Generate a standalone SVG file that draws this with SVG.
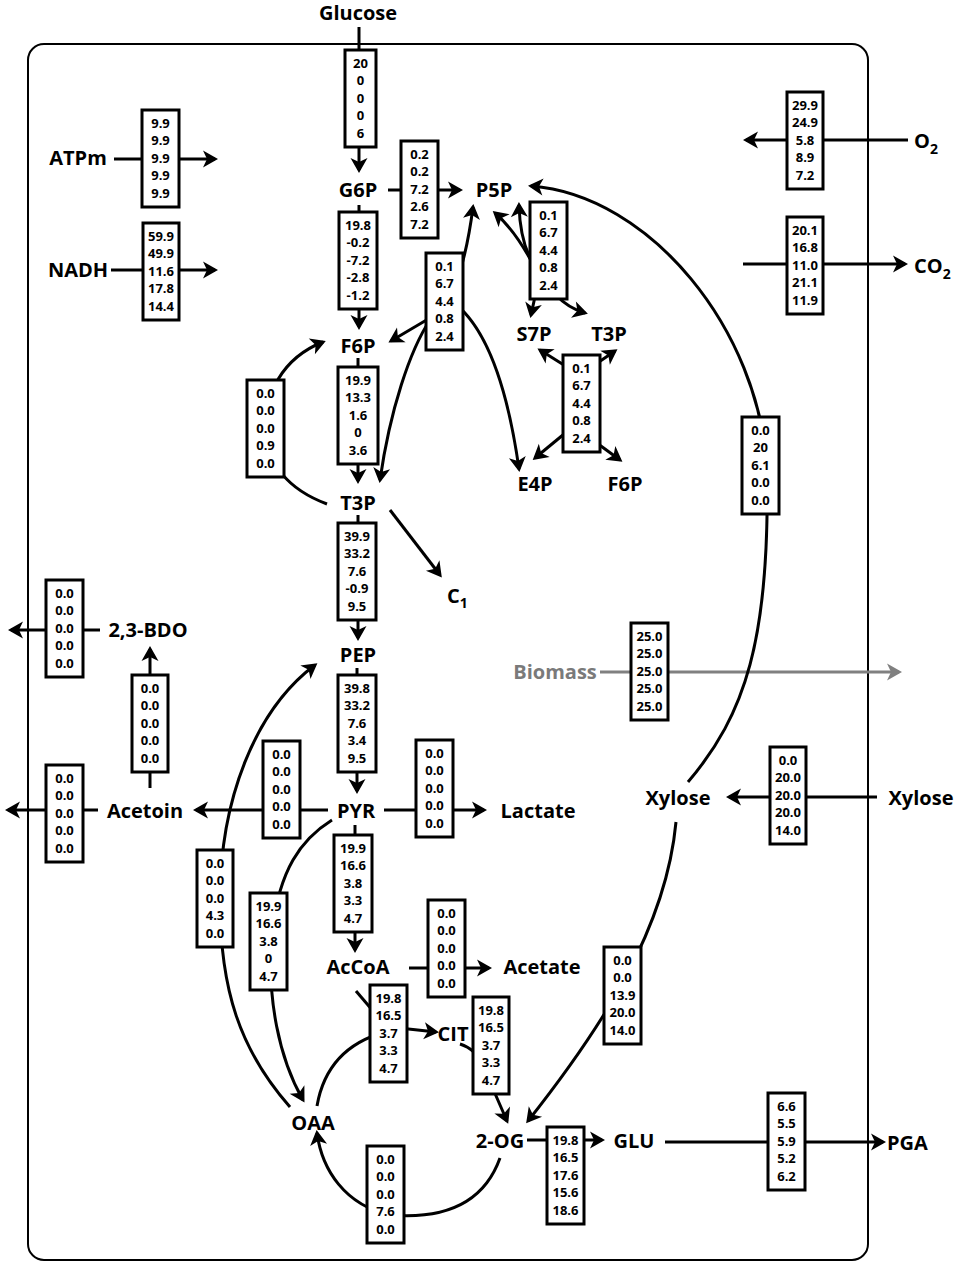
<svg xmlns="http://www.w3.org/2000/svg" width="957" height="1267" viewBox="0 0 957 1267">
<style>
.lbl{font-family:"Open Sans","Liberation Sans",sans-serif;font-weight:bold;font-size:20px;fill:#000;text-anchor:middle}
.lbs{font-family:"Open Sans","Liberation Sans",sans-serif;font-weight:bold;font-size:20px;fill:#000}
.num{font-family:"Open Sans","Liberation Sans",sans-serif;font-weight:bold;font-size:13px;fill:#000;text-anchor:middle}
.box{fill:#fff;stroke:#000;stroke-width:3}
.ln{fill:none;stroke:#000;stroke-width:3}
.ar{fill:none;stroke:#000;stroke-width:3;marker-end:url(#ah)}
.gr{fill:none;stroke:#808080;stroke-width:3;marker-end:url(#ahg)}
</style>
<defs>
<marker id="ah" markerUnits="userSpaceOnUse" markerWidth="16" markerHeight="18" refX="12" refY="8.5" orient="auto" overflow="visible">
<path d="M0,0 L15,8.5 L0,17 L4,8.5 z" fill="#000"/>
</marker>
<marker id="ahg" markerUnits="userSpaceOnUse" markerWidth="16" markerHeight="18" refX="12" refY="8.5" orient="auto" overflow="visible">
<path d="M0,0 L15,8.5 L0,17 L4,8.5 z" fill="#808080"/>
</marker>
</defs>
<rect width="957" height="1267" fill="#fff"/>
<rect id="cell" x="28" y="44" width="840" height="1216" rx="16" fill="none" stroke="#000" stroke-width="2"/>
<g id="connectors">
<path class="ar" d="M359,27 L359,170"/>
<path class="ar" d="M388,190 L460,190"/>
<path class="ar" d="M359,205 L359,327"/>
<path class="ar" d="M358,358 L358,481"/>
<path class="ar" d="M358,515 L358,638"/>
<path class="ar" d="M357,668 L357,791"/>
<path class="ar" d="M355,825 L355,950"/>
<path class="ar" d="M328,810 L196,810"/>
<path class="ar" d="M98,810 L8,810"/>
<path class="ar" d="M150,788 L150,649"/>
<path class="ar" d="M100,630 L11,630"/>
<path class="ar" d="M384,810 L484,810"/>
<path class="ar" d="M409,968 L489,968"/>
<path class="ar" d="M390,510 L440,575"/>
<path class="ar" d="M527,1140 L602,1140"/>
<path class="ar" d="M665,1142 L883,1142"/>
<path class="ar" d="M877,797 L729,797"/>
<path class="ar" d="M908,140 L746,140"/>
<path class="ar" d="M743,264 L905,264"/>
<path class="ar" d="M114,159 L215,159"/>
<path class="ar" d="M111,270 L215,270"/>
<path class="gr" d="M600,672 L899,672"/>
<path class="ln" d="M356,991 L385,1025"/>
<path class="ln" d="M317,1106 Q327,1048 385,1032"/>
<path class="ar" d="M390,1027 L436,1032"/>
<path class="ar" d="M460,1044 Q476,1049 483,1066 L507,1121"/>
<path class="ar" d="M500,1158 C485,1200 450,1220 390,1215 C345,1205 322,1170 317,1133"/>
<path class="ar" d="M332,820 C300,840 280,870 272,930 C266,1000 280,1060 303,1100"/>
<path class="ar" d="M290,1107 C240,1050 220,990 220,900 C220,800 255,710 315,665"/>
<path class="ar" d="M676,822 C666,930 600,1030 528,1121"/>
<path class="ar" d="M688,782 C745,715 770,640 767,470 C760,330 650,195 531,186"/>
<path class="ar" d="M327,504 C295,492 268,470 266,430 C264,395 282,358 323,342"/>
<path class="ar" d="M450,300 Q466,262 473,207"/>
<path class="ar" d="M440,312 L391,341"/>
<path class="ar" d="M430,320 C410,350 390,410 380,480"/>
<path class="ar" d="M450,300 C480,320 505,370 519,469"/>
<path class="ar" d="M534,266 Q515,230 495,213"/>
<path class="ar" d="M532,262 Q520,240 519,205"/>
<path class="ar" d="M536,292 L531,315"/>
<path class="ar" d="M556,295 Q568,308 585,313"/>
<path class="ar" d="M575,372 L540,350"/>
<path class="ar" d="M590,368 L615,351"/>
<path class="ar" d="M575,425 L535,458"/>
<path class="ar" d="M590,438 L620,460"/>
</g>
<g id="labels">
<g id="n_glucose"><text class="lbl" x="358" y="20">Glucose</text></g>
<g id="n_g6p"><text class="lbl" x="358" y="197">G6P</text></g>
<g id="n_p5p"><text class="lbl" x="494" y="197">P5P</text></g>
<g id="n_f6p"><text class="lbl" x="358" y="353">F6P</text></g>
<g id="n_s7p"><text class="lbl" x="534" y="341">S7P</text></g>
<g id="n_t3p2"><text class="lbl" x="609" y="341">T3P</text></g>
<g id="n_e4p"><text class="lbl" x="535" y="491">E4P</text></g>
<g id="n_f6p2"><text class="lbl" x="625" y="491">F6P</text></g>
<g id="n_t3p"><text class="lbl" x="358" y="510">T3P</text></g>
<g id="n_c1"><text class="lbs" x="447" y="603">C<tspan font-size="14" dy="5">1</tspan></text></g>
<g id="n_pep"><text class="lbl" x="358" y="662">PEP</text></g>
<g id="n_pyr"><text class="lbl" x="356" y="818">PYR</text></g>
<g id="n_acetoin"><text class="lbl" x="145" y="818">Acetoin</text></g>
<g id="n_bdo"><text class="lbl" x="148" y="637">2,3-BDO</text></g>
<g id="n_lactate"><text class="lbl" x="538" y="818">Lactate</text></g>
<g id="n_accoa"><text class="lbl" x="358" y="974">AcCoA</text></g>
<g id="n_acetate"><text class="lbl" x="542" y="974">Acetate</text></g>
<g id="n_cit"><text class="lbl" x="453" y="1041">CIT</text></g>
<g id="n_oaa"><text class="lbl" x="313" y="1130">OAA</text></g>
<g id="n_2og"><text class="lbl" x="500" y="1148">2-OG</text></g>
<g id="n_glu"><text class="lbl" x="634" y="1148">GLU</text></g>
<g id="n_pga"><text class="lbs" x="887" y="1150">PGA</text></g>
<g id="n_xylose_in"><text class="lbl" x="678" y="805">Xylose</text></g>
<g id="n_xylose_out"><text class="lbl" x="921" y="805">Xylose</text></g>
<g id="n_biomass"><text class="lbl" x="555" y="679" style="fill:#7a7a7a">Biomass</text></g>
<g id="n_atpm"><text class="lbl" x="78" y="165">ATPm</text></g>
<g id="n_nadh"><text class="lbl" x="78" y="277">NADH</text></g>
<g id="n_o2"><text class="lbs" x="914" y="148">O<tspan font-size="14" dy="6">2</tspan></text></g>
<g id="n_co2"><text class="lbs" x="914" y="273">CO<tspan font-size="14" dy="6">2</tspan></text></g>
</g>
<g id="boxes">
<g id="b_glc"><rect class="box" x="345" y="50" width="31" height="97"/><text class="num"><tspan x="360.5" y="67.5">20</tspan><tspan x="360.5" y="85">0</tspan><tspan x="360.5" y="102.5">0</tspan><tspan x="360.5" y="120">0</tspan><tspan x="360.5" y="137.5">6</tspan></text></g>
<g id="b_zwf"><rect class="box" x="401" y="141" width="37" height="97"/><text class="num"><tspan x="419.5" y="158.5">0.2</tspan><tspan x="419.5" y="176">0.2</tspan><tspan x="419.5" y="193.5">7.2</tspan><tspan x="419.5" y="211">2.6</tspan><tspan x="419.5" y="228.5">7.2</tspan></text></g>
<g id="b_pgi"><rect class="box" x="339" y="212" width="38" height="97"/><text class="num"><tspan x="358" y="229.5">19.8</tspan><tspan x="358" y="247">-0.2</tspan><tspan x="358" y="264.5">-7.2</tspan><tspan x="358" y="282">-2.8</tspan><tspan x="358" y="299.5">-1.2</tspan></text></g>
<g id="b_tkt1"><rect class="box" x="426" y="253" width="37" height="97"/><text class="num"><tspan x="444.5" y="270.5">0.1</tspan><tspan x="444.5" y="288">6.7</tspan><tspan x="444.5" y="305.5">4.4</tspan><tspan x="444.5" y="323">0.8</tspan><tspan x="444.5" y="340.5">2.4</tspan></text></g>
<g id="b_rpe"><rect class="box" x="530" y="202" width="37" height="97"/><text class="num"><tspan x="548.5" y="219.5">0.1</tspan><tspan x="548.5" y="237">6.7</tspan><tspan x="548.5" y="254.5">4.4</tspan><tspan x="548.5" y="272">0.8</tspan><tspan x="548.5" y="289.5">2.4</tspan></text></g>
<g id="b_tal"><rect class="box" x="563" y="355" width="37" height="97"/><text class="num"><tspan x="581.5" y="372.5">0.1</tspan><tspan x="581.5" y="390">6.7</tspan><tspan x="581.5" y="407.5">4.4</tspan><tspan x="581.5" y="425">0.8</tspan><tspan x="581.5" y="442.5">2.4</tspan></text></g>
<g id="b_fbp"><rect class="box" x="247" y="380" width="37" height="97"/><text class="num"><tspan x="265.5" y="397.5">0.0</tspan><tspan x="265.5" y="415">0.0</tspan><tspan x="265.5" y="432.5">0.0</tspan><tspan x="265.5" y="450">0.9</tspan><tspan x="265.5" y="467.5">0.0</tspan></text></g>
<g id="b_pfk"><rect class="box" x="338" y="367" width="40" height="97"/><text class="num"><tspan x="358" y="384.5">19.9</tspan><tspan x="358" y="402">13.3</tspan><tspan x="358" y="419.5">1.6</tspan><tspan x="358" y="437">0</tspan><tspan x="358" y="454.5">3.6</tspan></text></g>
<g id="b_gap"><rect class="box" x="338" y="523" width="38" height="97"/><text class="num"><tspan x="357" y="540.5">39.9</tspan><tspan x="357" y="558">33.2</tspan><tspan x="357" y="575.5">7.6</tspan><tspan x="357" y="593">-0.9</tspan><tspan x="357" y="610.5">9.5</tspan></text></g>
<g id="b_pyk"><rect class="box" x="338" y="675" width="38" height="97"/><text class="num"><tspan x="357" y="692.5">39.8</tspan><tspan x="357" y="710">33.2</tspan><tspan x="357" y="727.5">7.6</tspan><tspan x="357" y="745">3.4</tspan><tspan x="357" y="762.5">9.5</tspan></text></g>
<g id="b_als"><rect class="box" x="263" y="741" width="37" height="97"/><text class="num"><tspan x="281.5" y="758.5">0.0</tspan><tspan x="281.5" y="776">0.0</tspan><tspan x="281.5" y="793.5">0.0</tspan><tspan x="281.5" y="811">0.0</tspan><tspan x="281.5" y="828.5">0.0</tspan></text></g>
<g id="b_acetoin_out"><rect class="box" x="46" y="765" width="37" height="97"/><text class="num"><tspan x="64.5" y="782.5">0.0</tspan><tspan x="64.5" y="800">0.0</tspan><tspan x="64.5" y="817.5">0.0</tspan><tspan x="64.5" y="835">0.0</tspan><tspan x="64.5" y="852.5">0.0</tspan></text></g>
<g id="b_bdh"><rect class="box" x="132" y="675" width="36" height="97"/><text class="num"><tspan x="150" y="692.5">0.0</tspan><tspan x="150" y="710">0.0</tspan><tspan x="150" y="727.5">0.0</tspan><tspan x="150" y="745">0.0</tspan><tspan x="150" y="762.5">0.0</tspan></text></g>
<g id="b_bdo_out"><rect class="box" x="46" y="580" width="37" height="97"/><text class="num"><tspan x="64.5" y="597.5">0.0</tspan><tspan x="64.5" y="615">0.0</tspan><tspan x="64.5" y="632.5">0.0</tspan><tspan x="64.5" y="650">0.0</tspan><tspan x="64.5" y="667.5">0.0</tspan></text></g>
<g id="b_ldh"><rect class="box" x="416" y="740" width="37" height="97"/><text class="num"><tspan x="434.5" y="757.5">0.0</tspan><tspan x="434.5" y="775">0.0</tspan><tspan x="434.5" y="792.5">0.0</tspan><tspan x="434.5" y="810">0.0</tspan><tspan x="434.5" y="827.5">0.0</tspan></text></g>
<g id="b_pdh"><rect class="box" x="334" y="835" width="38" height="97"/><text class="num"><tspan x="353" y="852.5">19.9</tspan><tspan x="353" y="870">16.6</tspan><tspan x="353" y="887.5">3.8</tspan><tspan x="353" y="905">3.3</tspan><tspan x="353" y="922.5">4.7</tspan></text></g>
<g id="b_pyc"><rect class="box" x="250" y="893" width="37" height="97"/><text class="num"><tspan x="268.5" y="910.5">19.9</tspan><tspan x="268.5" y="928">16.6</tspan><tspan x="268.5" y="945.5">3.8</tspan><tspan x="268.5" y="963">0</tspan><tspan x="268.5" y="980.5">4.7</tspan></text></g>
<g id="b_pck"><rect class="box" x="197" y="850" width="36" height="97"/><text class="num"><tspan x="215" y="867.5">0.0</tspan><tspan x="215" y="885">0.0</tspan><tspan x="215" y="902.5">0.0</tspan><tspan x="215" y="920">4.3</tspan><tspan x="215" y="937.5">0.0</tspan></text></g>
<g id="b_cs"><rect class="box" x="370" y="985" width="37" height="97"/><text class="num"><tspan x="388.5" y="1002.5">19.8</tspan><tspan x="388.5" y="1020">16.5</tspan><tspan x="388.5" y="1037.5">3.7</tspan><tspan x="388.5" y="1055">3.3</tspan><tspan x="388.5" y="1072.5">4.7</tspan></text></g>
<g id="b_icd"><rect class="box" x="473" y="997" width="36" height="97"/><text class="num"><tspan x="491" y="1014.5">19.8</tspan><tspan x="491" y="1032">16.5</tspan><tspan x="491" y="1049.5">3.7</tspan><tspan x="491" y="1067">3.3</tspan><tspan x="491" y="1084.5">4.7</tspan></text></g>
<g id="b_gdh"><rect class="box" x="547" y="1127" width="37" height="97"/><text class="num"><tspan x="565.5" y="1144.5">19.8</tspan><tspan x="565.5" y="1162">16.5</tspan><tspan x="565.5" y="1179.5">17.6</tspan><tspan x="565.5" y="1197">15.6</tspan><tspan x="565.5" y="1214.5">18.6</tspan></text></g>
<g id="b_og_oaa"><rect class="box" x="367" y="1146" width="37" height="97"/><text class="num"><tspan x="385.5" y="1163.5">0.0</tspan><tspan x="385.5" y="1181">0.0</tspan><tspan x="385.5" y="1198.5">0.0</tspan><tspan x="385.5" y="1216">7.6</tspan><tspan x="385.5" y="1233.5">0.0</tspan></text></g>
<g id="b_ack"><rect class="box" x="428" y="900" width="37" height="97"/><text class="num"><tspan x="446.5" y="917.5">0.0</tspan><tspan x="446.5" y="935">0.0</tspan><tspan x="446.5" y="952.5">0.0</tspan><tspan x="446.5" y="970">0.0</tspan><tspan x="446.5" y="987.5">0.0</tspan></text></g>
<g id="b_xyl2og"><rect class="box" x="604" y="947" width="37" height="97"/><text class="num"><tspan x="622.5" y="964.5">0.0</tspan><tspan x="622.5" y="982">0.0</tspan><tspan x="622.5" y="999.5">13.9</tspan><tspan x="622.5" y="1017">20.0</tspan><tspan x="622.5" y="1034.5">14.0</tspan></text></g>
<g id="b_xylup"><rect class="box" x="770" y="747" width="36" height="97"/><text class="num"><tspan x="788" y="764.5">0.0</tspan><tspan x="788" y="782">20.0</tspan><tspan x="788" y="799.5">20.0</tspan><tspan x="788" y="817">20.0</tspan><tspan x="788" y="834.5">14.0</tspan></text></g>
<g id="b_xylp5p"><rect class="box" x="742" y="417" width="37" height="97"/><text class="num"><tspan x="760.5" y="434.5">0.0</tspan><tspan x="760.5" y="452">20</tspan><tspan x="760.5" y="469.5">6.1</tspan><tspan x="760.5" y="487">0.0</tspan><tspan x="760.5" y="504.5">0.0</tspan></text></g>
<g id="b_bio"><rect class="box" x="631" y="623" width="37" height="97"/><text class="num"><tspan x="649.5" y="640.5">25.0</tspan><tspan x="649.5" y="658">25.0</tspan><tspan x="649.5" y="675.5">25.0</tspan><tspan x="649.5" y="693">25.0</tspan><tspan x="649.5" y="710.5">25.0</tspan></text></g>
<g id="b_o2"><rect class="box" x="787" y="92" width="36" height="97"/><text class="num"><tspan x="805" y="109.5">29.9</tspan><tspan x="805" y="127">24.9</tspan><tspan x="805" y="144.5">5.8</tspan><tspan x="805" y="162">8.9</tspan><tspan x="805" y="179.5">7.2</tspan></text></g>
<g id="b_co2"><rect class="box" x="787" y="217" width="36" height="97"/><text class="num"><tspan x="805" y="234.5">20.1</tspan><tspan x="805" y="252">16.8</tspan><tspan x="805" y="269.5">11.0</tspan><tspan x="805" y="287">21.1</tspan><tspan x="805" y="304.5">11.9</tspan></text></g>
<g id="b_atp"><rect class="box" x="142" y="110" width="37" height="97"/><text class="num"><tspan x="160.5" y="127.5">9.9</tspan><tspan x="160.5" y="145">9.9</tspan><tspan x="160.5" y="162.5">9.9</tspan><tspan x="160.5" y="180">9.9</tspan><tspan x="160.5" y="197.5">9.9</tspan></text></g>
<g id="b_nadh"><rect class="box" x="143" y="223" width="36" height="97"/><text class="num"><tspan x="161" y="240.5">59.9</tspan><tspan x="161" y="258">49.9</tspan><tspan x="161" y="275.5">11.6</tspan><tspan x="161" y="293">17.8</tspan><tspan x="161" y="310.5">14.4</tspan></text></g>
<g id="b_pga"><rect class="box" x="768" y="1093" width="37" height="97"/><text class="num"><tspan x="786.5" y="1110.5">6.6</tspan><tspan x="786.5" y="1128">5.5</tspan><tspan x="786.5" y="1145.5">5.9</tspan><tspan x="786.5" y="1163">5.2</tspan><tspan x="786.5" y="1180.5">6.2</tspan></text></g>
</g>
</svg>
